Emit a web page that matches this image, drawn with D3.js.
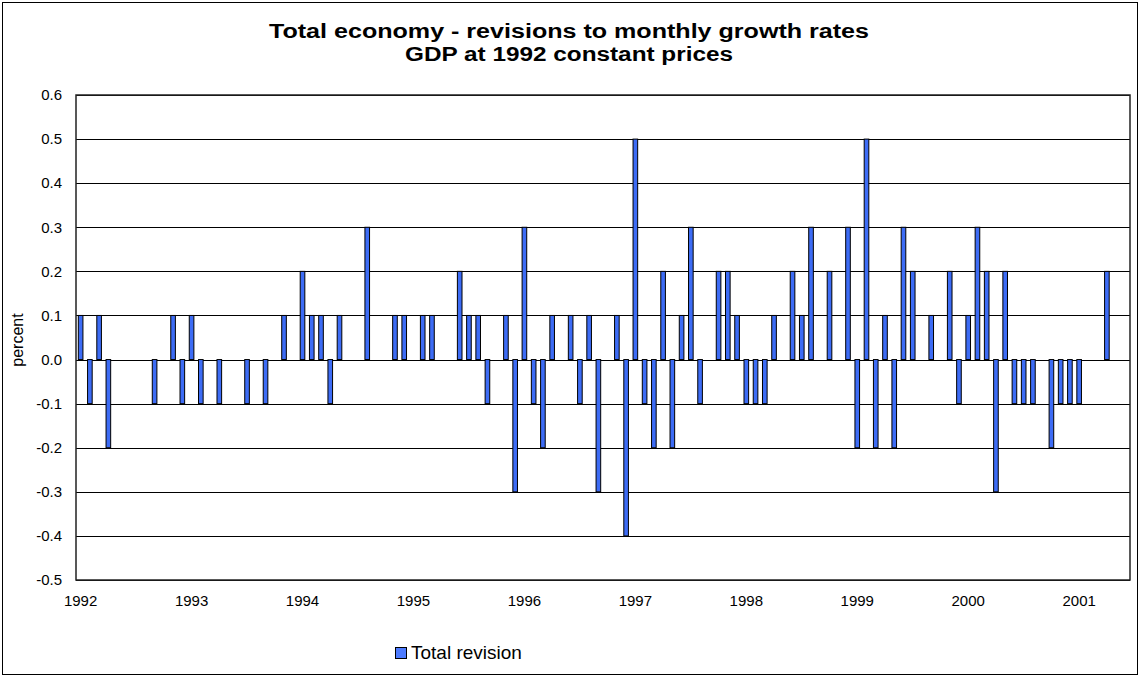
<!DOCTYPE html>
<html>
<head>
<meta charset="utf-8">
<script src="https://cdn.jsdelivr.net/npm/d3@7"></script>
<style>
  html, body { margin: 0; padding: 0; background: #fff; }
  svg { display: block; font-family: "Liberation Sans", Arial, sans-serif; }
</style>
</head>
<body>
<svg id="chart" width="1140" height="677"></svg>
<script>
// ---- data ----
const titleLines = ["Total economy - revisions to monthly growth rates", "GDP at 1992 constant prices"];
const yLabel = "percent";
const seriesName = "Total revision";
const monthCount = 114; // Jan 1992 - Jun 2001
const yearLabels = ["1992","1993","1994","1995","1996","1997","1998","1999","2000","2001"];
const yTicks = [-0.5,-0.4,-0.3,-0.2,-0.1,0.0,0.1,0.2,0.3,0.4,0.5,0.6];
// monthly revisions (percentage points), index 0 = Jan 1992
const revisions = [
  0.1,-0.1,0.1,-0.2,0,0,0,0,-0.1,0,0.1,-0.1,          // 1992
  0.1,-0.1,0,-0.1,0,0,-0.1,0,-0.1,0,0.1,0,            // 1993
  0.2,0.1,0.1,-0.1,0.1,0,0,0.3,0,0,0.1,0.1,           // 1994
  0,0.1,0.1,0,0,0.2,0.1,0.1,-0.1,0,0.1,-0.3,          // 1995
  0.3,-0.1,-0.2,0.1,0,0.1,-0.1,0.1,-0.3,0,0.1,-0.4,   // 1996
  0.5,-0.1,-0.2,0.2,-0.2,0.1,0.3,-0.1,0,0.2,0.2,0.1,  // 1997
  -0.1,-0.1,-0.1,0.1,0,0.2,0.1,0.3,0,0.2,0,0.3,       // 1998
  -0.2,0.5,-0.2,0.1,-0.2,0.3,0.2,0,0.1,0,0.2,-0.1,    // 1999
  0.1,0.3,0.2,-0.3,0.2,-0.1,-0.1,-0.1,0,-0.2,-0.1,-0.1, // 2000
  -0.1,0,0,0.2,0,0                                    // 2001
];

// ---- layout ----
const svg = d3.select("#chart");
const W = 1140, H = 677;
const plot = { left: 76, top: 95, right: 1130, bottom: 580 };
const FONT = "Liberation Sans, Arial, sans-serif";

svg.append("rect").attr("x", 2.5).attr("y", 2.5).attr("width", W - 5).attr("height", H - 5)
  .attr("fill", "#fff").attr("stroke", "#000").attr("stroke-width", 1);

const months = d3.range(monthCount);
const x = d3.scaleBand().domain(months).range([plot.left, plot.right]).paddingInner(0.5).paddingOuter(0.25);
const y = d3.scaleLinear().domain([-0.5, 0.6]).range([plot.bottom, plot.top]);

// gridlines
svg.append("g").selectAll("line").data(yTicks).join("line")
  .attr("x1", plot.left).attr("x2", plot.right)
  .attr("y1", d => Math.round(y(d)) + 0.5).attr("y2", d => Math.round(y(d)) + 0.5)
  .attr("stroke", "#000").attr("stroke-width", 1);

// bars
const data = revisions.map((v, i) => ({ i, v })).filter(d => d.v !== 0);
svg.append("g").selectAll("rect").data(data).join("rect")
  .attr("x", d => x(d.i))
  .attr("width", x.bandwidth())
  .attr("y", d => y(Math.max(0, d.v)))
  .attr("height", d => Math.abs(y(d.v) - y(0)))
  .attr("fill", "#3d6cf5").attr("stroke", "#000").attr("stroke-width", 1);

// plot border
svg.append("rect").attr("x", plot.left).attr("y", plot.top)
  .attr("width", plot.right - plot.left).attr("height", plot.bottom - plot.top)
  .attr("fill", "none").attr("stroke", "#222").attr("stroke-width", 1.5);

// y axis
const yAxis = d3.axisLeft(y).tickValues(yTicks).tickFormat(d => d.toFixed(1)).tickSize(0).tickPadding(14);
const gy = svg.append("g").attr("transform", `translate(${plot.left},0)`).call(yAxis);
gy.select(".domain").remove();
gy.selectAll("text").attr("font-size", 15).attr("fill", "#000").attr("font-family", FONT);

// x axis (year labels at January of each year)
const xAxis = d3.axisBottom(x)
  .tickValues(yearLabels.map((yr, k) => k * 12))
  .tickFormat(i => yearLabels[i / 12])
  .tickSize(0).tickPadding(15);
const gx = svg.append("g").attr("transform", `translate(0,${plot.bottom})`).call(xAxis);
gx.select(".domain").remove();
gx.selectAll("text").attr("font-size", 15).attr("fill", "#000").attr("font-family", FONT);

// y label
svg.append("text").attr("transform", `translate(23,340) rotate(-90)`)
  .attr("text-anchor", "middle").attr("font-size", 16).text(yLabel);

// title
const titleWidths = [600, 328];
svg.append("g").selectAll("text").data(titleLines).join("text")
  .attr("x", 569).attr("y", (d, k) => 38 + k * 23)
  .attr("text-anchor", "middle").attr("font-size", 20).attr("font-weight", "bold")
  .attr("textLength", (d, k) => titleWidths[k]).attr("lengthAdjust", "spacingAndGlyphs")
  .text(d => d);

// legend
const lg = svg.append("g").attr("transform", "translate(395,647)");
lg.append("rect").attr("x", 0.5).attr("y", 0.5).attr("width", 11).attr("height", 11)
  .attr("fill", "#4d7bff").attr("stroke", "#000").attr("stroke-width", 1);
lg.append("text").attr("x", 16).attr("y", 11.5).attr("font-size", 19).text(seriesName);
</script>
</body>
</html>
